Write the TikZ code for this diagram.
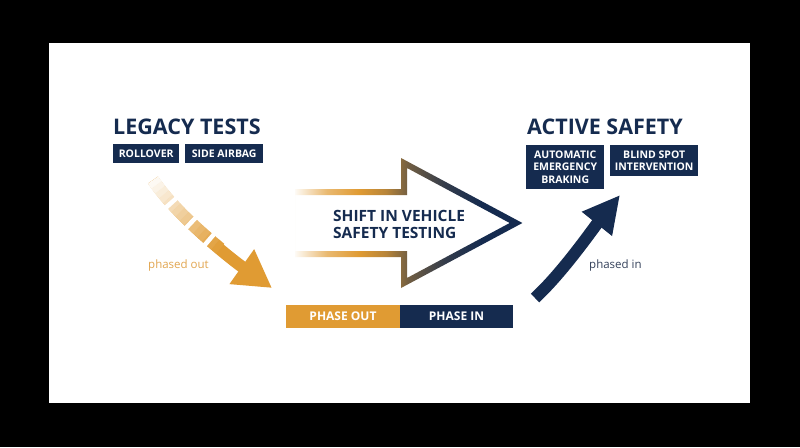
\documentclass[tikz,border=0pt]{standalone}
\usepackage{fontspec}
\setmainfont{Open Sans}
\usepackage{tikz}
\usetikzlibrary{arrows.meta}
\usetikzlibrary{shadings}

\definecolor{navy}{HTML}{152B4F}
\definecolor{gold}{HTML}{E09B33}
\definecolor{inkgray}{HTML}{34415A}
\definecolor{softgold}{HTML}{E2A650}

\pgfdeclarehorizontalshading{shiftgrad}{100bp}{color(0bp)=(gold!5); color(25bp)=(gold!5);
  color(32bp)=(gold!70); color(39bp)=(gold); color(45bp)=(gold!80!navy);
  color(50bp)=(gold!45!navy); color(58bp)=(gold!15!navy); color(66bp)=(navy); color(100bp)=(navy)}

\begin{document}
\begin{tikzpicture}[x=1pt,y=-1pt,
  tag/.style={fill=navy,text=white,inner sep=0pt,align=center,anchor=north west,
    font=\bfseries\fontsize{10.5}{12.5}\selectfont},
  headline/.style={text=navy,inner sep=0pt,anchor=base west,font=\bfseries\fontsize{21.5}{24}\selectfont},
  note/.style={inner sep=0pt,anchor=base west,font=\fontsize{11.5}{13}\selectfont},
  phase/.style={inner sep=0pt,outer sep=0pt,anchor=north west,minimum width=114pt,minimum height=23pt,
    text=white,font=\bfseries\fontsize{12}{14}\selectfont}]
    % 背景
    \useasboundingbox (0,0) rectangle (800,447);
    \fill[black] (0,0) rectangle (800,447);
    \fill[white] (49,43) rectangle (750,403);

    % 左右两组标题
    \node[headline] (legacy) at (113,134) {LEGACY TESTS};
    \node[tag,minimum width=66pt,minimum height=19pt] (rollover) at (113,144) {ROLLOVER};
    \node[tag,minimum width=78pt,minimum height=19pt] (airbag) at (185,144) {SIDE AIRBAG};
    \node[headline] (active) at (527,134) {ACTIVE SAFETY};
    \node[tag,minimum width=78pt,minimum height=44pt] (aeb) at (526,145) {AUTOMATIC\\EMERGENCY\\BRAKING};
    \node[tag,minimum width=88pt,minimum height=31pt] (bsi) at (610,145) {BLIND SPOT\\INTERVENTION};

    % 中间的大箭头
    \shade[even odd rule,shading=shiftgrad]
      (295,189) -- (401,189) -- (401,158) -- (522.4,223) -- (401,288) -- (401,257) -- (295,257) -- cycle
      (295,195) -- (407,195) -- (407,168) -- (509.7,223) -- (407,278) -- (407,251) -- (295,251) -- cycle;
    \node[inner sep=0pt,anchor=west,align=left,text=navy,font=\bfseries\fontsize{15.5}{17}\selectfont]
      (shift) at (333,224) {SHIFT IN VEHICLE\\SAFETY TESTING};

    \node[phase,fill=gold] (phaseout) at (286,305) {PHASE OUT};
    \node[phase,fill=navy,anchor=west,minimum width=113pt] (phasein) at (phaseout.east) {PHASE IN};

    \node[note,text=softgold] (outnote) at (148,268) {phased out};
    \node[note,text=inkgray] (innote) at (589,268) {phased in};

    % 淘汰的箭头 (虚线渐变)
    \coordinate (outstart) at (153,180);
    \coordinate (outtip) at (272,288);
    \draw[gold,line width=12pt,-{Triangle[width=40pt,length=37pt]}]
      (outstart) .. controls (178,217) and (231,259) .. (outtip);
    \foreach \s in {0,6,...,90}{
      \pgfmathtruncatemacro\pc{6+\s}
      \pgfmathsetmacro\ph{1008.5-\s}
      \draw[gold!\pc,line width=12.6pt,dash pattern=on 6.5pt off 1002pt,dash phase=\ph pt]
        (outstart) .. controls (178,217) and (231,259) .. (outtip);
    }
    \foreach \s in {27,55,80}{
      \pgfmathsetmacro\ph{1008.5-\s}
      \draw[white,line width=16pt,dash pattern=on 4.5pt off 1004pt,dash phase=\ph pt]
        (outstart) .. controls (178,217) and (231,259) .. (outtip);
    }

    % 引入的箭头
    \coordinate (instart) at (535,298);
    \coordinate (intip) at (620,195);
    \draw[navy,line width=12pt,-{Triangle[width=36pt,length=37pt]}]
      (instart) .. controls (563,272) and (592,230) .. (intip);
\end{tikzpicture}
\end{document}
